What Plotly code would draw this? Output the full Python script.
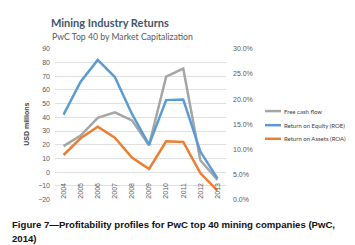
import plotly.graph_objects as go

years = ["2004", "2005", "2006", "2007", "2008", "2009", "2010", "2011", "2012", "2013"]
free_cash_flow = [19, 26.7, 39.7, 43.7, 37.8, 19.6, 69.7, 75.6, 8.7, -5.7]
roe_pct = [0.169, 0.2345, 0.278, 0.244, 0.1705, 0.109, 0.198, 0.199, 0.0955, 0.042]
roa_pct = [0.0886, 0.122, 0.145, 0.123, 0.0835, 0.0608, 0.116, 0.1145, 0.0527, 0.0177]

series_names = ["Free cash flow", "Return on Equity (ROE)", "Return on Assets (ROA)"]
series_colors = ["#A5A5A5", "#5B9BD5", "#ED7D31"]

W, H = 355, 245
def px(x):
    return x / W
def py(y):
    return 1 - y / H

fig = go.Figure()
fig.add_trace(go.Scatter(x=years, y=free_cash_flow, name=series_names[0], mode="lines",
                         line=dict(color=series_colors[0], width=2.5), yaxis="y"))
fig.add_trace(go.Scatter(x=years, y=roe_pct, name=series_names[1], mode="lines",
                         line=dict(color=series_colors[1], width=2.5), yaxis="y2"))
fig.add_trace(go.Scatter(x=years, y=roa_pct, name=series_names[2], mode="lines",
                         line=dict(color=series_colors[2], width=2.5), yaxis="y2"))

tickfont = dict(family="Liberation Sans, Arial, sans-serif", size=7, color="#595959")
capfont = dict(family="Liberation Sans, Arial, sans-serif", size=9.6, color="#111111")

annotations = [
    dict(text="Mining Industry Returns", x=px(41), y=py(11), xref="paper", yref="paper",
         xanchor="left", yanchor="middle", showarrow=False,
         font=dict(family="Lato, sans-serif", size=11, color="#44546A", weight=700)),
    dict(text="PwC Top 40 by Market Capitalization", x=px(42), y=py(25), xref="paper", yref="paper",
         xanchor="left", yanchor="middle", showarrow=False,
         font=dict(family="Lato, sans-serif", size=8.7, color="#595959")),
    dict(text="<b>Figure 7—Profitability profiles for PwC top 40 mining companies (PwC,</b>",
         x=px(2), y=py(219), xref="paper", yref="paper", xanchor="left", yanchor="middle",
         align="left", showarrow=False, font=capfont),
    dict(text="<b>2014)</b>",
         x=px(2), y=py(233.5), xref="paper", yref="paper", xanchor="left", yanchor="middle",
         align="left", showarrow=False, font=capfont),
]
shapes = []
legend_rows = [102, 116.5, 130.5]
for name, color, ly in zip(series_names, series_colors, legend_rows):
    shapes.append(dict(type="line", xref="paper", yref="paper",
                       x0=px(257), x1=px(273), y0=py(ly), y1=py(ly),
                       line=dict(color=color, width=2.5)))
    annotations.append(dict(text=name, x=px(274), y=py(ly), xref="paper", yref="paper",
                            xanchor="left", yanchor="middle", showarrow=False,
                            font=dict(family="Lato, sans-serif", size=6, color="#404040")))

fig.update_layout(
    width=W, height=H,
    margin=dict(l=0, r=0, t=0, b=0),
    paper_bgcolor="white", plot_bgcolor="white",
    showlegend=False,
    xaxis=dict(domain=[px(47), px(218)], type="category", range=[-0.5, 9.5],
               anchor="free", position=py(165), showgrid=False, showline=False, zeroline=False,
               tickangle=-90, tickfont=tickfont, ticks="outside", ticklen=7, tickcolor="rgba(0,0,0,0)"),
    yaxis=dict(domain=[py(193), py(38)], range=[-20, 90], dtick=10, tick0=0,
               showgrid=True, gridcolor="#E0E0E0", gridwidth=1, zeroline=False, showline=False,
               tickfont=tickfont, ticklabelstandoff=4,
               title=dict(text="<b>USD millions</b>", font=dict(family="Liberation Sans, Arial, sans-serif", size=7, color="#404040"), standoff=7)),
    yaxis2=dict(overlaying="y", side="right", anchor="x", range=[0, 0.30], dtick=0.05,
                tickformat=".1%", showgrid=False, zeroline=False, showline=False,
                tickfont=tickfont, ticklabelstandoff=6),
    annotations=annotations,
    shapes=shapes,
)

fig.write_html("out.html")
